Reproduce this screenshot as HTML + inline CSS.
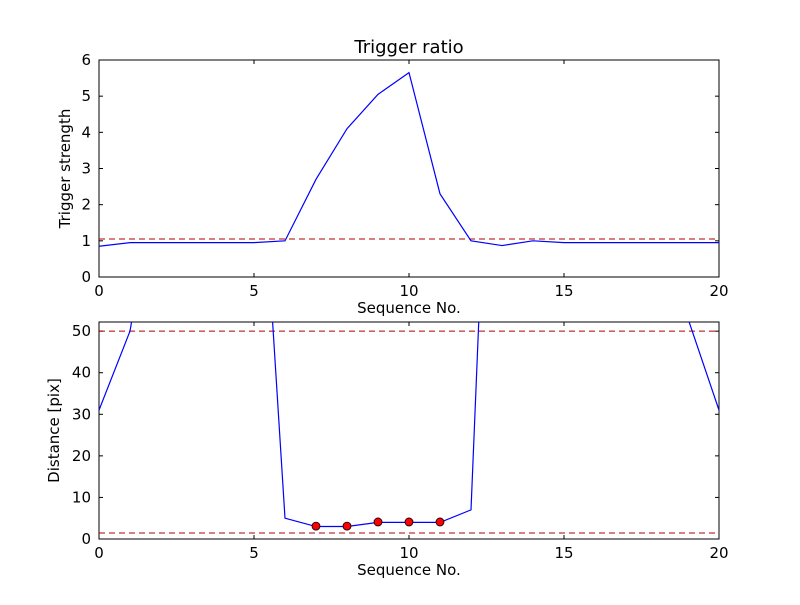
<!DOCTYPE html>
<html><head><meta charset="utf-8"><style>
body{margin:0;background:#fff;}
svg text{font-family:"DejaVu Sans","Liberation Sans",sans-serif;fill:#000;}
</style></head><body>
<svg id="fig" width="800" height="600" xmlns="http://www.w3.org/2000/svg">
<defs>
<clipPath id="c1"><rect x="99" y="60" width="620" height="217"/></clipPath>
<clipPath id="c2"><rect x="99" y="322" width="620" height="217"/></clipPath>
</defs>
<text x="409" y="53" font-size="18" text-anchor="middle">Trigger ratio</text>
<g id="p1"></g>
<g id="p2"></g>
</svg>
<script>
const seq = [0,1,2,3,4,5,6,7,8,9,10,11,12,13,14,15,16,17,18,19,20];
const strength = [0.85,0.95,0.95,0.95,0.95,0.95,1.0,2.7,4.1,5.05,5.65,2.3,1.0,0.87,1.0,0.95,0.95,0.95,0.95,0.95,0.95];
const strengthThreshold = [1.05];
const distance = [31,50,94,100,100,123,5,3,3,4,4,4,7,188,200,200,200,200,200,53,31];
const hitSeq = [7,8,9,10,11];
const hitDist = [3.1,3.1,4.1,4.1,4.1];
const distThresholds = [50,1.45];
const xTicks = [0,5,10,15,20];
const y1Ticks = [0,1,2,3,4,5,6];
const y2Ticks = [0,10,20,30,40,50];

const NS="http://www.w3.org/2000/svg";
function mk(parent,tag,attrs,name){const e=document.createElementNS(NS,tag);for(const k in attrs)e.setAttribute(k,attrs[k]);


parent.appendChild(e);return e;}
function panel(g,top,ymax,yticks,ylabel,clip,yoff){
  const L=99,R=719,B=top+217;
  const sx=v=>L+(v-0)/(20-0)*(R-L);
  const sy=v=>B-(v/ymax)*(B-top);
  mk(g,'rect',{x:L,y:top,width:R-L,height:B-top,fill:'#fff',stroke:'#000','stroke-width':1},'plot-area');
  xTicks.forEach(t=>{const x=sx(t);
    mk(g,'line',{x1:x,x2:x,y1:B,y2:B-4,stroke:'#000'},'x-tick');
    mk(g,'line',{x1:x,x2:x,y1:top,y2:top+4,stroke:'#000'},'x-tick-top');
    const tx=mk(g,'text',{x:x,y:B+19,'font-size':15,'text-anchor':'middle'},'x-tick-label');tx.textContent=t;});
  yticks.forEach(t=>{const y=sy(t);
    mk(g,'line',{x1:L,x2:L+4,y1:y,y2:y,stroke:'#000'},'y-tick');
    mk(g,'line',{x1:R,x2:R-4,y1:y,y2:y,stroke:'#000'},'y-tick-right');
    const tx=mk(g,'text',{x:L-8,y:y+5,'font-size':15,'text-anchor':'end'},'y-tick-label');tx.textContent=t;});
  const xl=mk(g,'text',{x:(L+R)/2,y:B+36,'font-size':15,'text-anchor':'middle'},'x-axis-title');xl.textContent='Sequence No.';
  const yl=mk(g,'text',{x:0,y:0,'font-size':15,'text-anchor':'middle',transform:`translate(${L-yoff},${(top+B)/2}) rotate(-90)`},'y-axis-title');yl.textContent=ylabel;
  const inner=mk(g,'g',{'clip-path':`url(#${clip})`},'series-group');
  return {sx,sy,inner,L,R};
}
const a=panel(document.getElementById('p1'),60,6,y1Ticks,'Trigger strength','c1',29);
strengthThreshold.forEach(v=>mk(a.inner,'line',{x1:a.L,x2:a.R,y1:a.sy(v),y2:a.sy(v),stroke:'#b00000','stroke-dasharray':'6,4'},'threshold-line'));
mk(a.inner,'polyline',{points:seq.map((s,i)=>a.sx(s)+','+a.sy(strength[i])).join(' '),fill:'none',stroke:'#0000ff','stroke-width':1.2},'strength-line');

const b=panel(document.getElementById('p2'),322,52.2,y2Ticks,'Distance [pix]','c2',40);
distThresholds.forEach(v=>mk(b.inner,'line',{x1:b.L,x2:b.R,y1:b.sy(v),y2:b.sy(v),stroke:'#b00000','stroke-dasharray':'6,4'},'distance-threshold-line'));
mk(b.inner,'polyline',{points:seq.map((s,i)=>b.sx(s)+','+b.sy(distance[i])).join(' '),fill:'none',stroke:'#0000ff','stroke-width':1.2},'distance-line');
hitSeq.forEach((s,i)=>mk(b.inner,'circle',{cx:b.sx(s),cy:b.sy(hitDist[i]),r:4,fill:'#ff0000',stroke:'#000','stroke-width':0.8},'hit-point'));
</script>
</body></html>
